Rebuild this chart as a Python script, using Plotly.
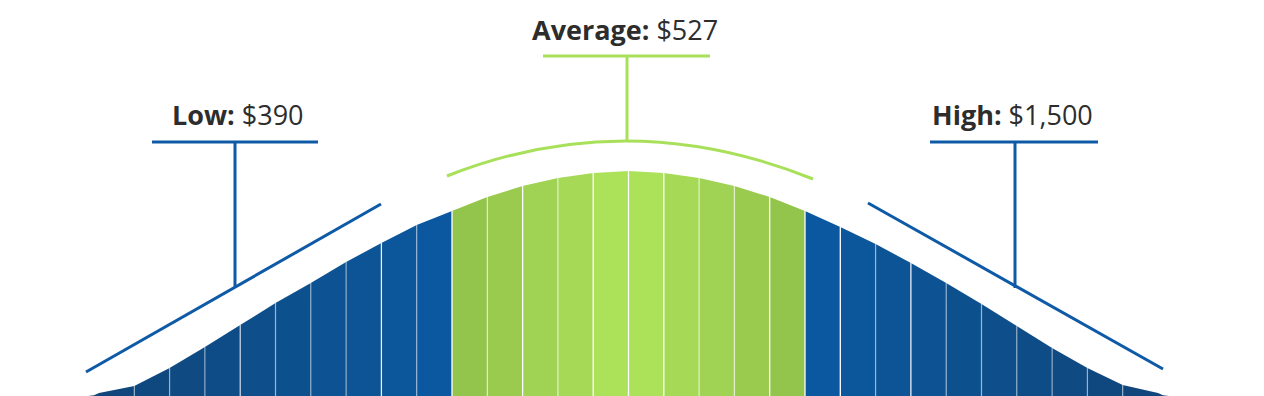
import plotly.graph_objects as go

# ---- data ----
# curve height at each strip boundary (31 boundaries -> 30 strips)
heights = [2, 10, 28, 49, 71, 93, 113, 134, 153, 171, 185, 199, 210, 218, 223,
           225, 223, 218, 210, 199, 185, 169, 152, 133, 113, 92, 70, 48, 28, 11, 2]
strip_group = ["low"] * 10 + ["average"] * 10 + ["high"] * 10
label_names = ["Low:", "Average:", "High:"]
label_values = ["$390", "$527", "$1,500"]

# ---- style ----
blue_shades = ["#10467b", "#0f487f", "#0f4a83", "#0e4c87", "#0e4e8a",
               "#0d508e", "#0d5292", "#0c5496", "#0c569b", "#0b58a0"]
green_shades = ["#93c44b", "#9acb4f", "#a0d253", "#a6da56", "#ace25a"]
strip_colors = blue_shades + green_shades + green_shades[::-1] + blue_shades[::-1]
sep_opacity = [0.45, 0.45, 0.45, 0.7, 0.45, 0.45, 0.45, 0.9, 0.45, 1.0,
               0.6, 1.0, 0.6, 1.0, 1.0, 1.0, 0.6, 0.6, 1.0, 1.0,
               1.0, 0.45, 0.9, 0.45, 0.45, 0.45, 0.45, 0.45, 0.45]
BLUE = "#0e5aa6"
GREEN = "#a9e05a"
TEXT = "#2d2d2d"
FONT = "Open Sans"

W, H = 1264, 396
X0_PX, STEP_PX = 99.0, 35.3   # pixel position of boundary 0 and strip width


def dx(px):
    return (px - X0_PX) / STEP_PX


def dy(py):
    return H - py


fig = go.Figure()

n = len(heights) - 1
for i in range(n):
    xs = [i, i, i + 1, i + 1]
    ys = [0, heights[i], heights[i + 1], 0]
    if i == 0:
        xs = [dx(88), dx(94), i, i + 1, i + 1]
        ys = [0, 0.8, heights[i] + 1, heights[i + 1], 0]
    if i == n - 1:
        xs = [i, i, i + 1, dx(1163), dx(1169)]
        ys = [0, heights[i], heights[i + 1] + 1, 0.8, 0]
    fig.add_trace(go.Scatter(x=xs, y=ys, fill="toself", mode="lines",
                             line=dict(width=0), fillcolor=strip_colors[i],
                             hoverinfo="skip", showlegend=False))

shapes = []
for i in range(1, n):
    shapes.append(dict(type="line", xref="x", yref="y", x0=i, x1=i, y0=0,
                       y1=heights[i], line=dict(color="white", width=1.3),
                       opacity=sep_opacity[i - 1], layer="above"))


def seg(x0, y0, x1, y1, color):
    return dict(type="line", xref="x", yref="y", x0=dx(x0), y0=dy(y0),
                x1=dx(x1), y1=dy(y1), line=dict(color=color, width=3))


# Low marker
shapes += [seg(152, 142, 318, 142, BLUE), seg(235, 142, 235, 288, BLUE),
           seg(86, 372, 381, 204, BLUE)]
# High marker
shapes += [seg(930, 142, 1098, 142, BLUE), seg(1015, 142, 1015, 288, BLUE),
           seg(868, 203, 1163, 369, BLUE)]
# Average marker
shapes += [seg(543, 56, 710, 56, GREEN), seg(627, 56, 627, 141, GREEN)]
arc = "M {:.4f},{:.2f} Q {:.4f},{:.2f} {:.4f},{:.2f}".format(
    dx(447), dy(176), dx(628), dy(104.5), dx(813), dy(179))
shapes.append(dict(type="path", xref="x", yref="y", path=arc,
                   line=dict(color=GREEN, width=3)))

label_pos = [(237.5, 114), (624.5, 29), (1012, 114)]
annotations = []
for name, val, (px, py) in zip(label_names, label_values, label_pos):
    annotations.append(dict(x=dx(px), y=dy(py), xref="x", yref="y",
                            text="<b>{}</b> {}".format(name, val),
                            showarrow=False, xanchor="center", yanchor="middle",
                            font=dict(family=FONT, size=27, color=TEXT)))

fig.update_layout(
    width=W, height=H, margin=dict(l=0, r=0, t=0, b=0),
    paper_bgcolor="white", plot_bgcolor="white",
    xaxis=dict(range=[dx(0), dx(W)], visible=False, fixedrange=True),
    yaxis=dict(range=[0, H], visible=False, fixedrange=True),
    shapes=shapes, annotations=annotations, showlegend=False,
)

fig.write_html("out.html")
